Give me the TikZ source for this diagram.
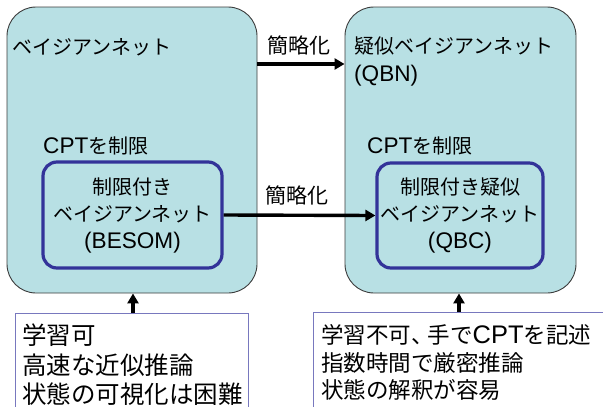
\documentclass[tikz,border=0pt]{standalone}
\usepackage{fontspec}
\setmainfont{Noto Sans CJK JP}
\newfontfamily\latfont[Scale=1.13]{Liberation Sans}
\newcommand\Lat[1]{{\latfont #1}}
\usetikzlibrary{arrows.meta}
\definecolor{bncyan}{RGB}{184,224,228}
\definecolor{bnblue}{RGB}{51,51,153}
\definecolor{notegray}{RGB}{120,120,190}
\definecolor{edgegray}{RGB}{60,60,60}
\tikzset{
  bigbox/.style={draw=edgegray, line width=0.9pt, fill=bncyan, rounded corners=29pt, inner sep=0pt},
  innerbox/.style={draw=bnblue, line width=3.2pt, rounded corners=14pt, inner sep=0pt},
  notebox/.style={draw=notegray, line width=0.9pt, fill=white, inner sep=0pt},
  lbl/.style={font=\fontsize{20}{24}\selectfont, inner sep=0pt},
  innertxt/.style={font=\fontsize{20}{27}\selectfont, align=center, inner sep=0pt},
  notetxt/.style={align=left, inner sep=0pt, anchor=west},
  arr/.style={line width=3.4pt, -{Triangle[length=10pt,width=11pt]}}
}
\begin{document}
\begin{tikzpicture}[x=1pt,y=-1pt]
\useasboundingbox (0,0) rectangle (603,407);
\clip (0,0) rectangle (603,407);
% big boxes
\node[bigbox, minimum width=250pt, minimum height=286pt] (bn) at (132,150) {};
\node[bigbox, minimum width=231pt, minimum height=286pt] (qbn) at (460.5,150) {};
% inner boxes
\node[innerbox, minimum width=179pt, minimum height=106pt] (besom) at (132.5,215) {};
\node[innerbox, minimum width=166pt, minimum height=105pt] (qbc) at (460,215.5) {};
% labels
\node[lbl, anchor=west] (bnlabel) at (12,47) {ベイジアンネット};
\node[lbl, anchor=west, align=left, font=\fontsize{20}{28}\selectfont] (qbnlabel) at (354,61) {疑似ベイジアンネット\\\Lat{(QBN)}};
\node[lbl, anchor=west] (cpt1) at (43,146) {\Lat{CPT}を制限};
\node[lbl, anchor=west] (cpt2) at (367,146) {\Lat{CPT}を制限};
\node[innertxt] (besomtxt) at (besom.center) {制限付き\\ベイジアンネット\\\Lat{(BESOM)}};
\node[innertxt] (qbctxt) at (qbc.center) {制限付き疑似\\ベイジアンネット\\\Lat{(QBC)}};
% arrows between boxes
\coordinate (yone) at (0,64);
\draw[arr] (bn.east |- yone) -- (qbn.west |- yone);
\draw[arr] (besom.east) -- (qbc.west);
\node[lbl, font=\fontsize{21}{24}\selectfont] (s1) at (299,45) {簡略化};
\node[lbl, font=\fontsize{21}{24}\selectfont] (s2) at (297,195) {簡略化};
% note boxes
\node[notebox, anchor=north west, minimum width=233pt, minimum height=120pt] (note1) at (15,313) {};
\node[notebox, anchor=north west, minimum width=310pt, minimum height=120pt] (note2) at (313,312) {};
\node[notetxt, font=\fontsize{24.5}{29.5}\selectfont] (note1txt) at (22,365) {学習可\\高速な近似推論\\状態の可視化は困難};
\node[notetxt, font=\fontsize{22.5}{27.5}\selectfont] (note2txt) at (321,362.5) {学習不可、\kern-6pt 手で\Lat{CPT}を記述\\指数時間で厳密推論\\状態の解釈が容易};
\coordinate (xone) at (133,0);
\coordinate (xtwo) at (459,0);
\draw[arr] (note1.north -| xone) -- (bn.south -| xone);
\draw[arr] (note2.north -| xtwo) -- (qbn.south -| xtwo);
\end{tikzpicture}
\end{document}
